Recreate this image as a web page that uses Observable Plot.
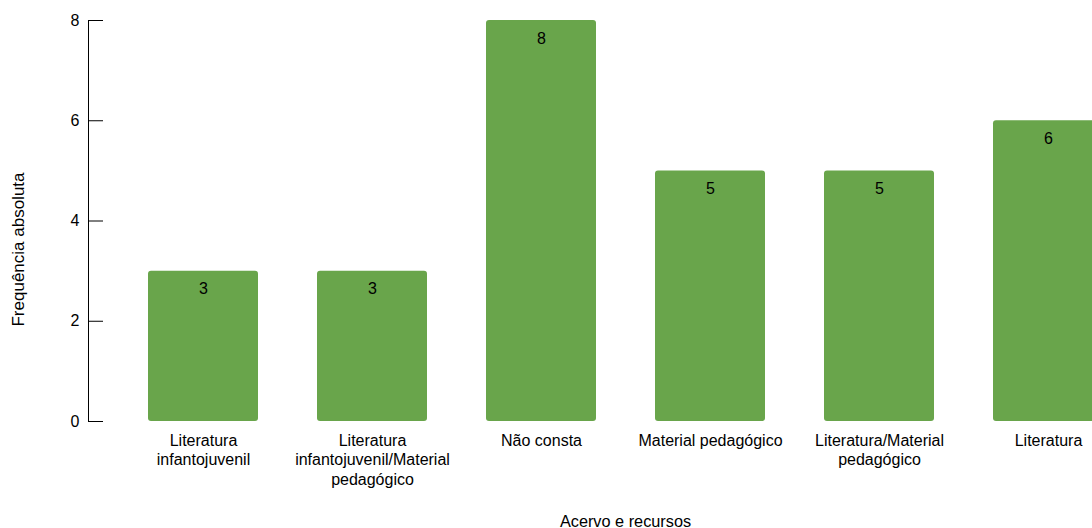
<!DOCTYPE html>
<html>
<head>
<meta charset="utf-8">
<script src="https://cdn.jsdelivr.net/npm/d3@7"></script>
<script src="https://cdn.jsdelivr.net/npm/@observablehq/plot@0.6"></script>
<style>
  body { margin: 0; overflow: hidden; background: #fff; }
</style>
</head>
<body>
<div id="chart"></div>
<script>
const categories = [
  "Literatura infantojuvenil",
  "Literatura infantojuvenil/Material pedagógico",
  "Não consta",
  "Material pedagógico",
  "Literatura/Material pedagógico",
  "Literatura"
];
const tickLabels = [
  "Literatura\ninfantojuvenil",
  "Literatura\ninfantojuvenil/Material\npedagógico",
  "Não consta",
  "Material pedagógico",
  "Literatura/Material\npedagógico",
  "Literatura"
];
const values = [3, 3, 8, 5, 5, 6];
const yTicks = [0, 2, 4, 6, 8];
const xTitle = "Acervo e recursos";
const yTitle = "Frequência absoluta";

const data = categories.map((c, i) => ({cat: c, n: values[i]}));
const labelOf = new Map(categories.map((c, i) => [c, tickLabels[i]]));

const chart = Plot.plot({
  width: 1092,
  height: 528,
  marginLeft: 88,
  marginRight: 0,
  marginTop: 20,
  marginBottom: 107,
  style: {fontFamily: "'Liberation Sans', Arial, sans-serif", fontSize: "16px", color: "#000", background: "#fff"},
  x: {domain: categories, range: [87.5, 1163.4], padding: 0.35},
  y: {domain: [0, 8]},
  marks: [
    Plot.barY(data, {x: "cat", y: "n", fill: "#69a54b", rx: 3}),
    Plot.text(data, {x: "cat", y: "n", text: d => String(d.n), dy: 18, fill: "#000", fontSize: 16}),
    Plot.frame({anchor: "left", stroke: "#000"}),
    Plot.axisY({ticks: yTicks, tickSize: -15, tickPadding: 24, label: null, stroke: "#000", fontSize: 16}),
    Plot.axisX({tickSize: 0, tickPadding: 11, label: null, tickFormat: c => labelOf.get(c), fontSize: 16, lineHeight: 1.2}),
    Plot.text([xTitle], {frameAnchor: "bottom", dx: 35, dy: 105, fontSize: 16.3, fill: "#000"}),
    Plot.text([yTitle], {frameAnchor: "left", textAnchor: "middle", rotate: -90, dx: -70, dy: 28.5, fontSize: 17, fill: "#000"})
  ]
});
document.getElementById("chart").append(chart);
</script>
</body>
</html>
